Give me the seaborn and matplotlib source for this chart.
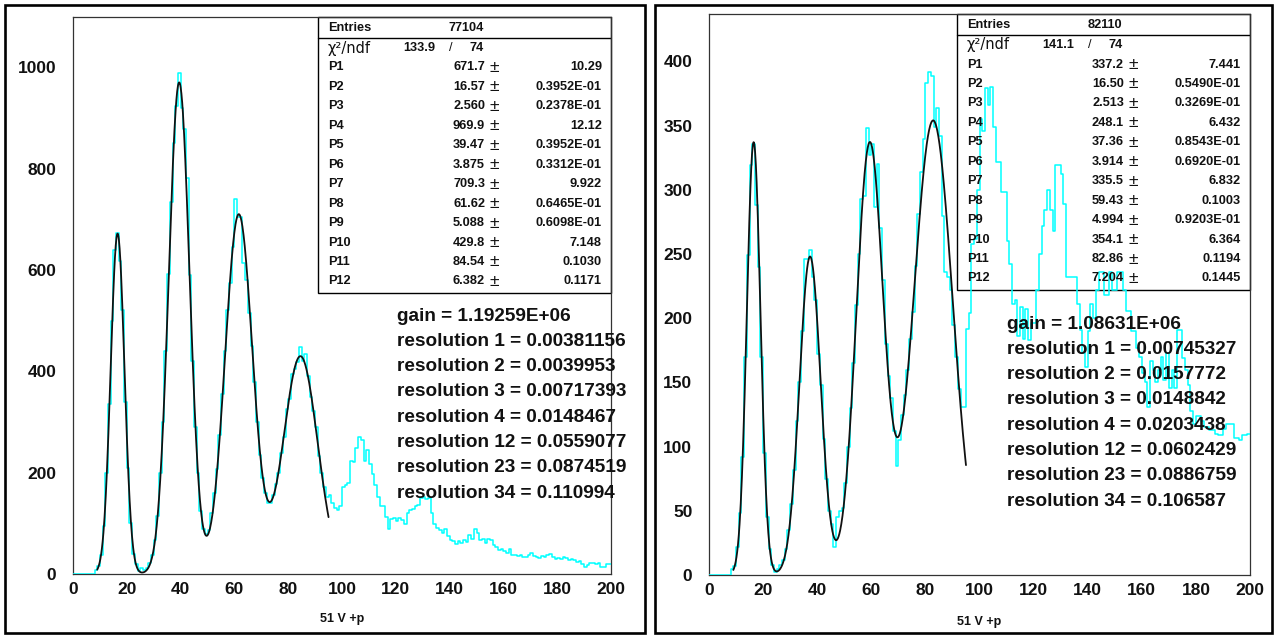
import numpy as np
import pandas as pd
import matplotlib
matplotlib.use("Agg")
import matplotlib.pyplot as plt
import seaborn as sns
from matplotlib.patches import Rectangle
from matplotlib.lines import Line2D
from matplotlib.ticker import MultipleLocator

# ---------------------------------------------------------------- data
bin_centers = np.arange(0, 200) + 0.5

counts_left = [
    0, 0, 0, 0, 0, 0, 0, 0, 8, 15,
    38, 95, 200, 335, 500, 640, 672, 618, 520, 340,
    210, 100, 40, 20, 5, 12, 8, 12, 22, 38,
    68, 115, 200, 300, 440, 592, 733, 851, 923, 988,
    920, 879, 782, 590, 420, 290, 200, 125, 88, 78,
    86, 120, 160, 208, 275, 355, 440, 520, 575, 645,
    740, 705, 704, 613, 580, 515, 450, 378, 300, 235,
    190, 160, 140, 140, 155, 178, 200, 238, 270, 325,
    345, 395, 405, 418, 447, 420, 435, 390, 350, 322,
    290, 232, 200, 172, 152, 156, 140, 130, 127, 135,
    172, 175, 180, 222, 220, 248, 270, 265, 222, 244,
    218, 198, 175, 152, 134, 134, 113, 88, 108, 110,
    105, 110, 106, 98, 120, 126, 129, 134, 136, 149,
    151, 148, 150, 121, 98, 90, 86, 80, 88, 74,
    68, 66, 60, 66, 62, 68, 64, 77, 70, 88,
    80, 68, 70, 62, 70, 68, 57, 53, 48, 50,
    46, 41, 50, 37, 38, 35, 37, 34, 34, 37,
    41, 36, 34, 32, 36, 34, 38, 40, 33, 30,
    31, 29, 33, 31, 27, 30, 28, 24, 26, 20,
    14, 17, 21, 22, 20, 21, 14, 13, 19, 20,
]

counts_right = [
    0, 0, 0, 0, 0, 0, 0, 0, 5, 7,
    22, 48, 92, 170, 249, 319, 336, 288, 240, 170,
    95, 45, 20, 8, 2, 5, 8, 12, 20, 35,
    55, 82, 120, 150, 190, 246, 246, 253, 232, 214,
    172, 148, 106, 75, 50, 40, 22, 45, 50, 52,
    72, 100, 130, 165, 210, 250, 293, 295, 348, 327,
    336, 287, 320, 270, 230, 180, 155, 138, 112, 85,
    105, 125, 140, 160, 184, 205, 241, 281, 314, 340,
    383, 392, 389, 349, 364, 342, 280, 236, 232, 222,
    195, 170, 145, 131, 131, 192, 204, 258, 262, 300,
    355, 346, 379, 366, 380, 349, 322, 322, 298, 298,
    260, 242, 211, 214, 186, 209, 184, 207, 183, 196,
    196, 222, 250, 272, 284, 300, 284, 268, 319, 319,
    312, 289, 232, 232, 232, 232, 211, 191, 173, 162,
    190, 211, 200, 222, 236, 236, 218, 218, 236, 222,
    222, 236, 236, 222, 206, 206, 190, 190, 177, 170,
    157, 150, 131, 167, 160, 150, 160, 170, 152, 173,
    146, 160, 146, 191, 191, 169, 160, 148, 128, 118,
    124, 124, 120, 115, 115, 113, 113, 110, 109, 109,
    114, 118, 118, 118, 107, 107, 105, 109, 109, 110,
]

# fit results: (value, error) for P1..P12  (amplitude, mean, sigma per peak)
par_left = ["671.7", "16.57", "2.560", "969.9", "39.47", "3.875",
            "709.3", "61.62", "5.088", "429.8", "84.54", "6.382"]
err_left = ["10.29", "0.3952E-01", "0.2378E-01", "12.12", "0.3952E-01",
            "0.3312E-01", "9.922", "0.6465E-01", "0.6098E-01", "7.148",
            "0.1030", "0.1171"]
par_right = ["337.2", "16.50", "2.513", "248.1", "37.36", "3.914",
             "335.5", "59.43", "4.994", "354.1", "82.86", "7.204"]
err_right = ["7.441", "0.5490E-01", "0.3269E-01", "6.432", "0.8543E-01",
             "0.6920E-01", "6.832", "0.1003", "0.9203E-01", "6.364",
             "0.1194", "0.1445"]

entries = ["77104", "82110"]
chi2 = ["133.9", "141.1"]
ndf = ["74", "74"]
fit_range = (9.0, 95.0)

gain_lines_left = ["gain = 1.19259E+06", "resolution 1 = 0.00381156",
                   "resolution 2 = 0.0039953", "resolution 3 = 0.00717393",
                   "resolution 4 = 0.0148467", "resolution 12 = 0.0559077",
                   "resolution 23 = 0.0874519", "resolution 34 = 0.110994"]
gain_lines_right = ["gain = 1.08631E+06", "resolution 1 = 0.00745327",
                    "resolution 2 = 0.0157772", "resolution 3 = 0.0148842",
                    "resolution 4 = 0.0203438", "resolution 12 = 0.0602429",
                    "resolution 23 = 0.0886759", "resolution 34 = 0.106587"]
x_title = "51 V +p"

# ---------------------------------------------------------------- style
sns.set_theme(style="white")
plt.rcParams["font.family"] = ["Liberation Sans", "DejaVu Sans"]

W, H = 1276, 635
fig = plt.figure(figsize=(W / 100, H / 100), dpi=100)
fig.patch.set_facecolor("white")

HIST_COLOR = "#00FFFF"
INK = "#111111"
TICK_FS = 12.5
TEXT_FS = 13.7
STAT_FS = 9.2


def fx(px):
    return px / W


def fy(py):
    return 1 - py / H


def multi_gauss(x, pars):
    y = np.zeros_like(x)
    for k in range(0, len(pars), 3):
        a, m, s = pars[k:k + 3]
        y += a * np.exp(-0.5 * ((x - m) / s) ** 2)
    return y


def draw_panel(frame_px, axes_px, ylim, ymajor, yminor, counts, par_txt,
               err_txt, n_entries, chi, nd, gain_lines, gain_xy, label_y):
    # canvas frame
    cx0, cy0, cx1, cy1 = frame_px
    fig.add_artist(Rectangle((fx(cx0), fy(cy1)), (cx1 - cx0) / W,
                             (cy1 - cy0) / H, transform=fig.transFigure,
                             fill=False, edgecolor="black", linewidth=1.9))

    x0, y0, x1, y1 = axes_px
    ax = fig.add_axes([fx(x0), fy(y1), (x1 - x0) / W, (y1 - y0) / H])
    ax.set_facecolor("white")

    df = pd.DataFrame({"x": bin_centers, "n": np.asarray(counts, float)})
    sns.histplot(data=df, x="x", weights="n", binwidth=1, binrange=(0, 200),
                 element="step", fill=False, color=HIST_COLOR,
                 linewidth=1.1, ax=ax, zorder=3)

    pars = [float(p) for p in par_txt]
    xf = np.linspace(fit_range[0], fit_range[1], 600)
    fit_df = pd.DataFrame({"x": xf, "y": multi_gauss(xf, pars)})
    sns.lineplot(data=fit_df, x="x", y="y", color=INK,
                 linewidth=1.3, ax=ax, zorder=4)

    ax.set_xlim(0, 200)
    ax.set_ylim(*ylim)
    ax.set_xlabel("")
    ax.set_ylabel("")
    ax.xaxis.set_major_locator(MultipleLocator(20))
    ax.xaxis.set_minor_locator(MultipleLocator(5))
    ax.yaxis.set_major_locator(MultipleLocator(ymajor))
    ax.yaxis.set_minor_locator(MultipleLocator(yminor))
    ax.tick_params(axis="both", which="both", direction="in",
                   top=False, right=False, color="#222222", width=0.8)
    ax.tick_params(axis="both", which="major", length=6.5)
    ax.tick_params(axis="both", which="minor", length=3.5)
    ax.tick_params(axis="y", which="major", pad=12, labelsize=TICK_FS)
    ax.tick_params(axis="x", which="major", pad=6, labelsize=TICK_FS)
    for lab in ax.get_xticklabels() + ax.get_yticklabels():
        lab.set_fontweight("bold")
        lab.set_color(INK)
    for sp in ax.spines.values():
        sp.set_color("#333333")
        sp.set_linewidth(0.9)

    # statistics box (top right of the frame)
    bw, bh = 293.0, 276.0
    bx0 = x1 - bw
    by0 = y0
    box_ax = (bx0 - x0) / (x1 - x0)
    box_ay = 1 - bh / (y1 - y0)
    ax.add_patch(Rectangle((box_ax, box_ay), 1 - box_ax, 1 - box_ay,
                           transform=ax.transAxes, facecolor="white",
                           edgecolor="black", linewidth=1.0, zorder=2,
                           clip_on=False))
    sep_ay = 1 - 20.5 / (y1 - y0)
    ax.add_line(Line2D([box_ax, 1], [sep_ay, sep_ay], transform=ax.transAxes,
                       color="black", linewidth=1.0, zorder=2))

    def stat(dx, dy, s, ha="left", size=STAT_FS, weight="bold", **kw):
        fig.text(fx(bx0 + dx), fy(by0 + dy), s, ha=ha, va="center",
                 fontsize=size, fontweight=weight, color=INK, **kw)

    stat(10, 11, "Entries")
    stat(131, 11, n_entries)
    stat(10, 31, "χ²/ndf", size=10.5, weight="normal", family="DejaVu Sans")
    stat(117, 31, chi, ha="right")
    stat(131, 31, "/", weight="normal")
    stat(166, 31, nd, ha="right")
    for i, (p, e) in enumerate(zip(par_txt, err_txt)):
        dy = 50.5 + 19.45 * i
        stat(10, dy, f"P{i + 1}")
        stat(167, dy, p, ha="right")
        stat(176.5, dy, "±", ha="center", size=12.5, weight="normal")
        stat(284, dy, e, ha="right")

    gx, gy = gain_xy
    for i, line in enumerate(gain_lines):
        fig.text(fx(gx), fy(gy + 25.3 * i), line, ha="left", va="center",
                 fontsize=TEXT_FS, fontweight="bold", color=INK)

    fig.text(fx((x0 + x1) / 2), fy(label_y), x_title, ha="center",
             va="center", fontsize=9, fontweight="bold", color=INK)
    return ax


draw_panel(frame_px=(5, 5, 645, 633), axes_px=(73, 17, 611, 574),
           ylim=(0, 1099), ymajor=200, yminor=50, counts=counts_left,
           par_txt=par_left, err_txt=err_left, n_entries=entries[0],
           chi=chi2[0], nd=ndf[0], gain_lines=gain_lines_left,
           gain_xy=(397, 316), label_y=619)

draw_panel(frame_px=(655, 5, 1272, 633), axes_px=(709, 14, 1250, 575),
           ylim=(0, 437), ymajor=50, yminor=10, counts=counts_right,
           par_txt=par_right, err_txt=err_right, n_entries=entries[1],
           chi=chi2[1], nd=ndf[1], gain_lines=gain_lines_right,
           gain_xy=(1007, 324), label_y=622)

fig.savefig("out.png", dpi=100, facecolor="white")
